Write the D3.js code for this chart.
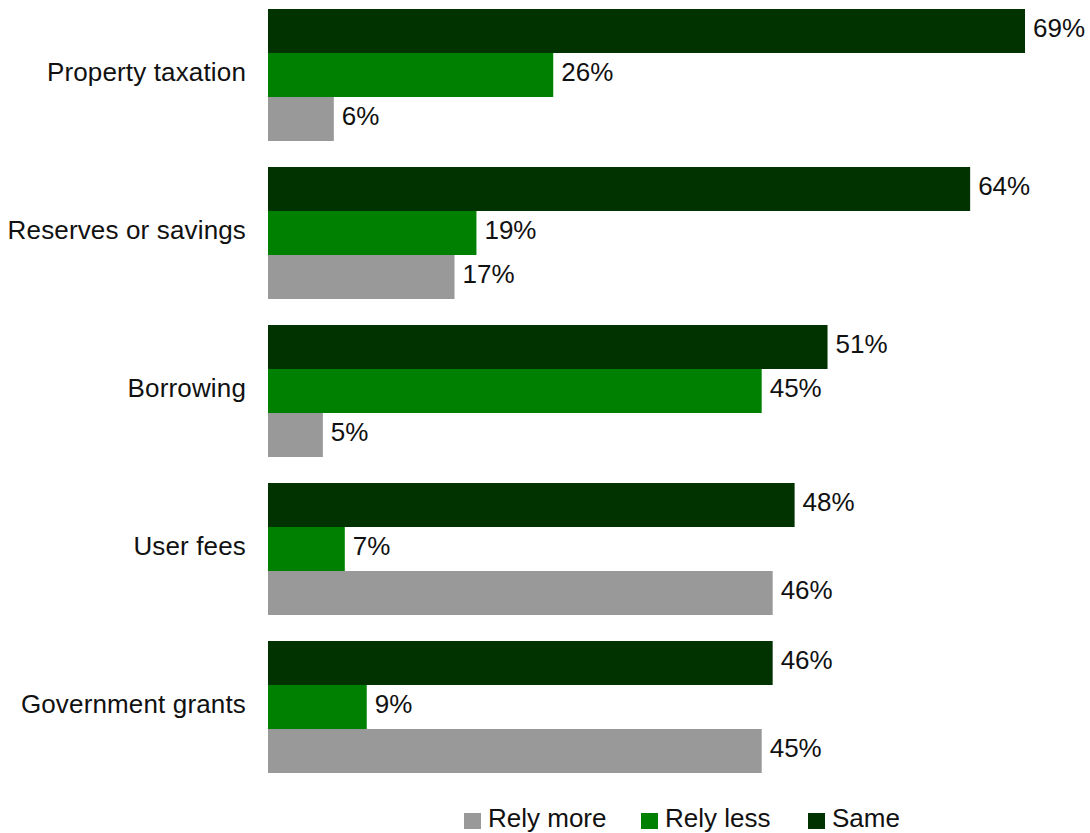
<!DOCTYPE html>
<html>
<head>
<meta charset="utf-8">
<script src="https://cdn.jsdelivr.net/npm/d3@7"></script>
<style>
  html, body { margin: 0; padding: 0; background: #ffffff; }
  svg { display: block; font-family: "Liberation Sans", Arial, Helvetica, sans-serif; }
</style>
</head>
<body>
<svg id="chart" width="1090" height="833"></svg>
<script>
// Funding sources and the share of respondents per answer (%)
const categories = ["Property taxation", "Reserves or savings", "Borrowing", "User fees", "Government grants"];
const seriesNames = ["Same", "Rely less", "Rely more"];
const same     = [69, 64, 51, 48, 46];
const relyLess = [26, 19, 45, 7, 9];
const relyMore = [6, 17, 5, 46, 45];
const legendOrder = ["Rely more", "Rely less", "Same"];
const colors = { "Same": "#003300", "Rely less": "#008000", "Rely more": "#999999" };

const valuesBySeries = { "Same": same, "Rely less": relyLess, "Rely more": relyMore };
const rows = categories.map((c, i) => ({
  category: c,
  values: seriesNames.map(s => ({ series: s, value: valuesBySeries[s][i] }))
}));

const svg = d3.select("#chart");
const x0 = 268;
const x = d3.scaleLinear().domain([0, 69]).range([x0, 1025]);

const step = 158;
const y = d3.scaleBand()
  .domain(categories)
  .range([-4, -4 + step * categories.length])
  .paddingInner(26 / step)
  .paddingOuter(13 / step);

const ySub = d3.scaleBand()
  .domain(seriesNames)
  .range([0, y.bandwidth()]);

const fontSize = 26;
const textDy = 6;

const groups = svg.append("g").selectAll("g")
  .data(rows)
  .join("g")
  .attr("transform", d => `translate(0,${y(d.category)})`);

groups.selectAll("rect")
  .data(d => d.values)
  .join("rect")
  .attr("x", x(0))
  .attr("y", d => ySub(d.series))
  .attr("width", d => x(d.value) - x(0))
  .attr("height", ySub.bandwidth())
  .attr("fill", d => colors[d.series]);

groups.selectAll("text.value")
  .data(d => d.values)
  .join("text")
  .attr("class", "value")
  .attr("x", d => x(d.value) + 8)
  .attr("y", d => ySub(d.series) + ySub.bandwidth() / 2 + textDy)
  .attr("font-size", fontSize)
  .attr("fill", "#111")
  .text(d => d.value + "%");

// Category labels
svg.append("g").selectAll("text")
  .data(categories)
  .join("text")
  .attr("x", x0 - 22)
  .attr("y", d => y(d) + y.bandwidth() / 2 + textDy)
  .attr("text-anchor", "end")
  .attr("font-size", fontSize)
  .attr("letter-spacing", "0.15px")
  .attr("fill", "#111")
  .text(d => d);

// Legend
const legendX = [464, 641, 808];
const legend = svg.append("g").selectAll("g")
  .data(legendOrder)
  .join("g")
  .attr("transform", (d, i) => `translate(${legendX[i]},813)`);
legend.append("rect")
  .attr("width", 17).attr("height", 16)
  .attr("fill", d => colors[d]);
legend.append("text")
  .attr("x", 24).attr("y", 14)
  .attr("font-size", fontSize)
  .attr("fill", "#111")
  .text(d => d);
</script>
</body>
</html>
